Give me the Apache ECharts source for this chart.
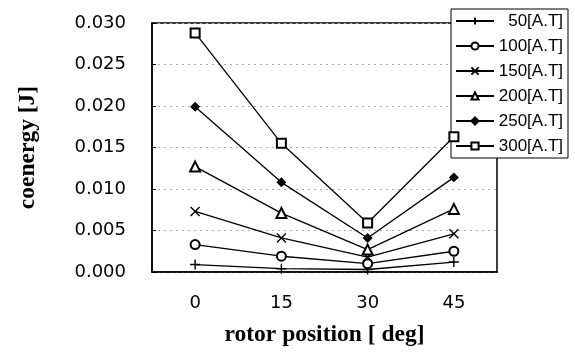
<!DOCTYPE html>
<html>
<head>
<meta charset="utf-8">
<script src="https://cdn.jsdelivr.net/npm/echarts@6/dist/echarts.min.js"></script>
<style>
  html, body { margin: 0; padding: 0; background: #fff; }
  #chart { width: 575px; height: 355px; }
</style>
</head>
<body>
<div id="chart"></div>
<script>
// rotor position [deg]
const positions = ["0", "15", "30", "45"];
const seriesNames = ["50[A.T]", "100[A.T]", "150[A.T]", "200[A.T]", "250[A.T]", "300[A.T]"];

// coenergy [J] per ampere-turn
const at50 = [0.0009, 0.0004, 0.0003, 0.0012];
const at100 = [0.0033, 0.0019, 0.0010, 0.0025];
const at150 = [0.0073, 0.0041, 0.0018, 0.0046];
const at200 = [0.0127, 0.0071, 0.0027, 0.0076];
const at250 = [0.0199, 0.0108, 0.0041, 0.0114];
const at300 = [0.0288, 0.0155, 0.0059, 0.0163];

const yTicks = [0, 0.005, 0.01, 0.015, 0.02, 0.025, 0.03];

const symbols = [
  "path://M0,5L10,5M5,0L5,10",
  "emptyCircle",
  "path://M0,0L10,10M10,0L0,10",
  "emptyTriangle",
  "diamond",
  "emptyRect"
];
const sizes = [10, 9, 9, 10, 8, 9];
const values = [at50, at100, at150, at200, at250, at300];

let chart = echarts.init(document.getElementById("chart"));

let series = seriesNames.map((name, i) => ({
  name: name,
  type: "line",
  data: values[i],
  symbol: symbols[i],
  symbolSize: sizes[i],
  showAllSymbol: true,
  lineStyle: { color: "#000", width: 1.3 },
  itemStyle: { color: "#000", borderColor: "#000", borderWidth: 1.4 },
  emphasis: { disabled: true },
  z: 5
}));

chart.setOption({
  animation: false,
  backgroundColor: "#fff",
  grid: {
    left: 152, right: 78, top: 23, bottom: 83,
    show: true, borderColor: "#000", borderWidth: 1.5, backgroundColor: "transparent"
  },
  legend: {
    orient: "vertical",
    left: 451, top: 9,
    padding: [2, 5, 2, 4],
    itemWidth: 38, itemHeight: 9, itemGap: 5,
    backgroundColor: "#fff",
    borderColor: "#000", borderWidth: 1,
    data: seriesNames,
    formatter: (name) => "{a|" + name + "}",
    textStyle: {
      rich: {
        a: {
          width: 64, align: "right", height: 20, lineHeight: 20,
          fontFamily: "'Liberation Sans Narrow', 'Arial Narrow', 'Liberation Sans', sans-serif",
          fontSize: 17, color: "#000"
        }
      }
    },
    z: 4
  },
  xAxis: {
    type: "category",
    data: positions,
    boundaryGap: true,
    name: "rotor position [ deg]",
    nameLocation: "middle",
    nameGap: 51,
    nameTextStyle: { fontFamily: "'Liberation Serif', 'DejaVu Serif', serif", fontWeight: "bold", fontSize: 23.5, color: "#000" },
    axisLine: { lineStyle: { color: "#000", width: 1.5 } },
    axisTick: { show: false },
    axisLabel: { margin: 22, fontFamily: "'DejaVu Sans', sans-serif", fontSize: 18, color: "#000" },
    splitLine: { show: false }
  },
  yAxis: {
    type: "value",
    min: yTicks[0],
    max: yTicks[yTicks.length - 1],
    interval: 0.005,
    name: "coenergy [J]",
    nameLocation: "middle",
    nameGap: 112,
    nameTextStyle: { fontFamily: "'Liberation Serif', 'DejaVu Serif', serif", fontWeight: "bold", fontSize: 23.5, color: "#000" },
    axisLine: { show: true, lineStyle: { color: "#000", width: 1.5 } },
    axisTick: { show: true, inside: true, length: 4, lineStyle: { color: "#000" } },
    axisLabel: {
      margin: 26,
      fontFamily: "'DejaVu Sans', sans-serif",
      fontSize: 18, color: "#000",
      formatter: (v) => v.toFixed(3)
    },
    splitLine: { show: true, lineStyle: { color: "#aaa", type: [2, 4], width: 1 } }
  },
  series: series
});
</script>
</body>
</html>
